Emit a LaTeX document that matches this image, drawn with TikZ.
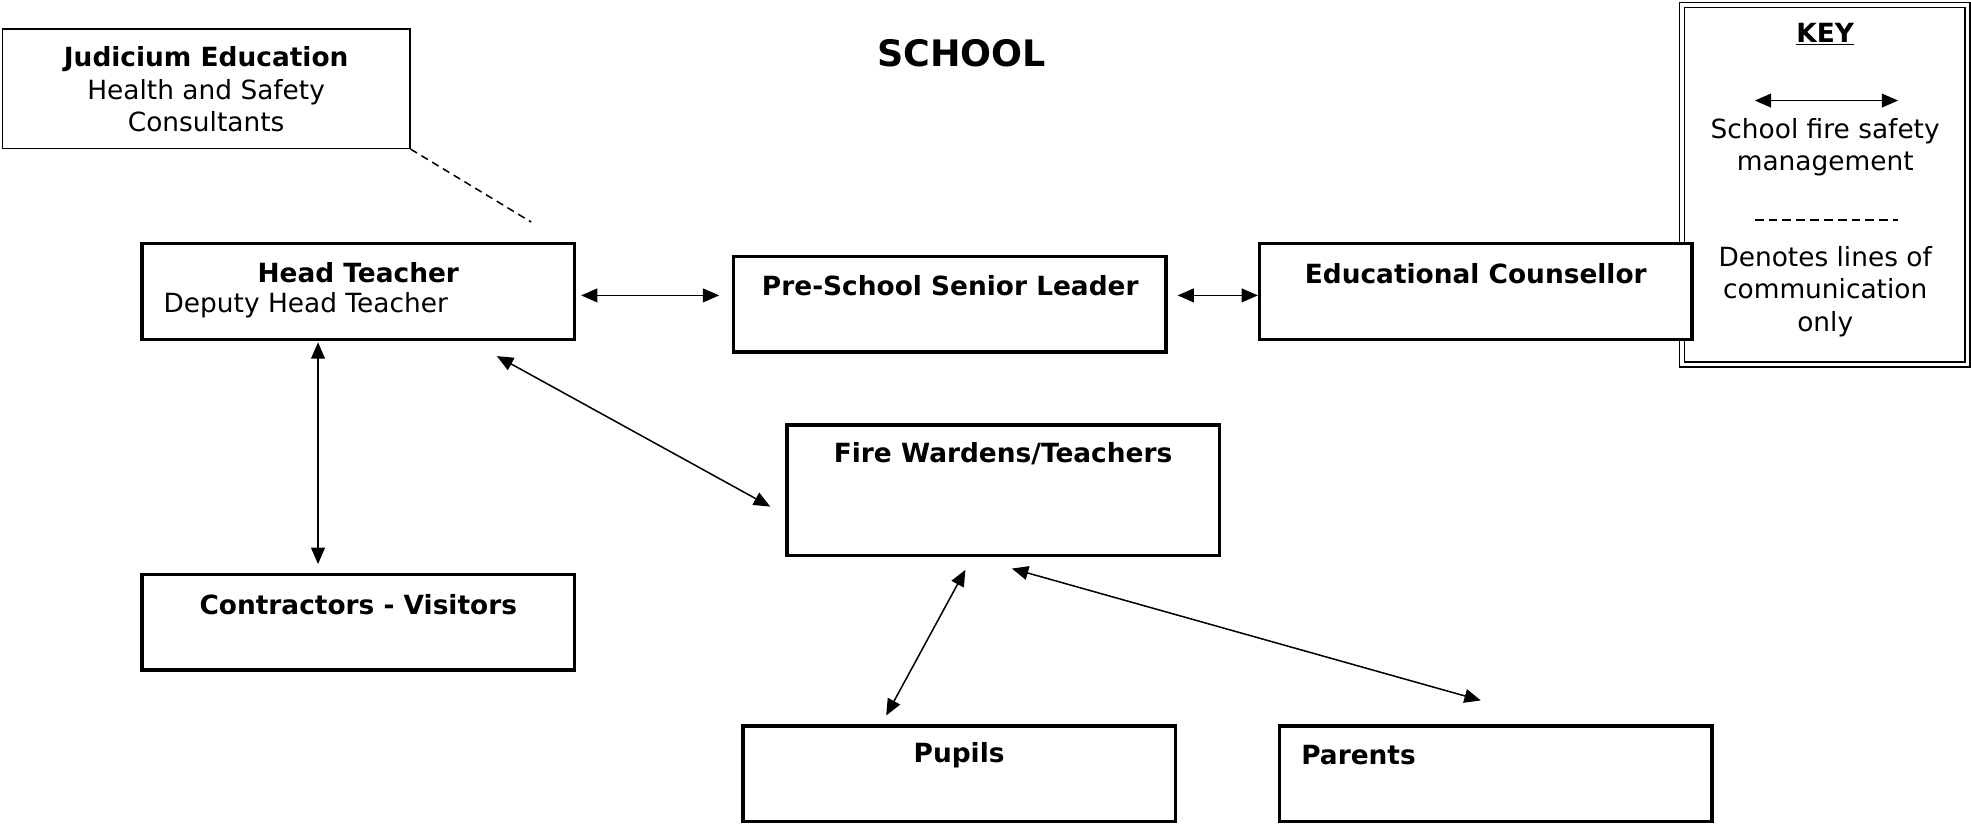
\documentclass[tikz,border=0pt]{standalone}
\usepackage{fontspec}
\setmainfont{DejaVu Sans}
\usetikzlibrary{arrows.meta}
\begin{document}
\begin{tikzpicture}[x=1pt,y=-1pt,
  box/.style={draw, line width=2.6pt, fill=white, minimum width=344pt, minimum height=76pt, inner sep=0pt},
  thinbox/.style={draw, line width=1.3pt, fill=white, inner sep=0pt},
  txt/.style={inner sep=0pt, font=\fontsize{21}{26}\selectfont, align=center},
  btxt/.style={txt, font=\fontsize{21}{26}\selectfont\bfseries},
  arr/.style={line width=1.2pt, {Triangle[length=13pt,width=11pt]}-{Triangle[length=13pt,width=11pt]}},
  comm/.style={line width=1.2pt, dash pattern=on 6pt off 4pt}]
\useasboundingbox (0,0) rectangle (1568,656);
% key box (double border)
\draw[line width=1.3pt] (1336,2) rectangle (1567,292);
\draw[line width=1.3pt] (1340,6) rectangle (1563,288);
\node[btxt] (keyt) at (1452,27) {\underline{KEY}};
\coordinate (k1) at (1396,80);
\coordinate (k2) at (1510,80);
\draw[arr] (k1) -- (k2);
\node[txt] (keya) at (1452,117) {School fire safety\\management};
\coordinate (k3) at (1396,175);
\coordinate (k4) at (1510,175);
\draw[line width=1.2pt, dash pattern=on 7pt off 4pt] (k3) -- (k4);
\node[txt] (keyb) at (1452,232) {Denotes lines of\\communication\\only};
% title
\node[inner sep=0pt, font=\fontsize{29}{34}\selectfont\bfseries] (title) at (765,42) {SCHOOL};
% Judicium
\node[thinbox, minimum width=324pt, minimum height=95pt] (jud) at (164,70.5) {};
\node[txt] (judt) at (164,71) {\textbf{Judicium Education}\\Health and Safety\\Consultants};
% boxes
\node[box] (head) at (285,232) {};
\node[btxt] (headt) at (285,217) {Head Teacher};
\node[txt, anchor=west] (deput) at (130,243) {Deputy Head Teacher};
\node[box] (pre) at (755.5,242) {};
\node[btxt] (pret) at (756,227) {Pre-School Senior Leader};
\node[box] (edu) at (1174,232) {};
\node[btxt] (edut) at (1174,218) {Educational Counsellor};
\node[box, minimum height=104pt] (fire) at (798,390) {};
\node[btxt] (firet) at (798,361) {Fire Wardens/Teachers};
\node[box] (con) at (285,495) {};
\node[btxt] (cont) at (285,481) {Contractors - Visitors};
\node[box] (pup) at (763,615.5) {};
\node[btxt] (pupt) at (763,601) {Pupils};
\node[box] (par) at (1190,615.5) {};
\node[btxt, anchor=west] (part) at (1035,601) {Parents};
% connectors
\draw[comm] (jud.south east) -- ([shift={(96,58)}]jud.south east);
\draw[arr] ([shift={(4,3)}]head.east) -- ([shift={(-10,-7)}]pre.west);
\draw[arr] ([shift={(8,-7)}]pre.east) -- ([shift={(0,3)}]edu.west);
\draw[arr] ([shift={(-32,1)}]head.south) -- ([shift={(-32,-7)}]con.north);
\draw[arr] ([shift={(-63,12)}]head.south east) -- ([shift={(-12,13)}]fire.west);
\draw[arr] ([shift={(-30,10)}]fire.south) -- ([shift={(-58,-7)}]pup.north);
\draw[arr] ([shift={(7,9)}]fire.south) -- ([shift={(-12,-19)}]par.north);
\end{tikzpicture}
\end{document}
